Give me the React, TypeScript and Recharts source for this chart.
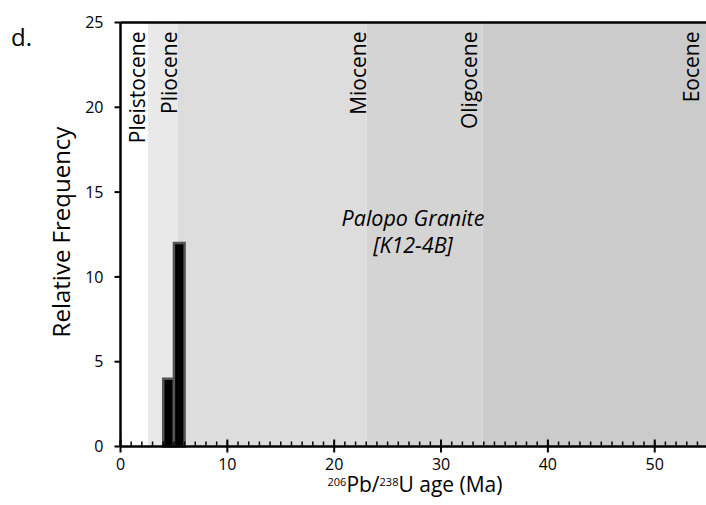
import React from 'react';
import { ComposedChart, XAxis, YAxis, ReferenceArea, ReferenceLine, Line } from 'recharts';

// epochs (Ma)
const epochNames = ['Pleistocene', 'Pliocene', 'Miocene', 'Oligocene', 'Eocene'];
const epochStart = [0, 2.58, 5.33, 23.03, 33.9];
const epochEnd = [2.58, 5.33, 23.03, 33.9, 56];
const epochLabelAt = [2.3, 5.3, 23.0, 33.4, 54.1];
const epochFill = ['#ffffff', '#e9e9e9', '#dddddd', '#d4d4d4', '#cbcbcb'];

// histogram bins, 1 Ma wide
const binStart = [4, 5];
const binEnd = [5, 6];
const binCount = [4, 12];

const xTicks = [0, 10, 20, 30, 40, 50];
const yTicks = [0, 5, 10, 15, 20, 25];
const minorTicks = Array.from({ length: 55 }, (_, i) => i);

const bins = binStart.map((s, i) => ({ age: (s + binEnd[i]) / 2, count: binCount[i] }));

const FONT = '"Open Sans", sans-serif';
const X_DOMAIN = [0, 54.8];

// tick lines only, no label
const NoLabel = () => <g />;

const EpochLabel = ({ viewBox, text }: any) => {
  const x = viewBox.x;
  const y = viewBox.y + 9;
  return (
    <text x={x} y={y} transform={`rotate(-90 ${x} ${y})`} textAnchor="end" fontSize={21} fontFamily={FONT} fill="#000">
      {text}
    </text>
  );
};

export default function App() {
  return (
    <div style={{ position: 'absolute', left: 0, top: 0, width: 706, height: 505, background: '#fff' }}>
      <ComposedChart width={706} height={505} data={bins} margin={{ top: 21.5, right: 0, left: 80.5, bottom: 28.5 }}>
        {epochNames.map((n, i) => (
          <ReferenceArea key={n} xAxisId="main" yAxisId="main" x1={epochStart[i]} x2={epochEnd[i]} y1={0} y2={25}
            fill={epochFill[i]} fillOpacity={1} stroke="none" ifOverflow="hidden" />
        ))}
        {binStart.map((s, i) => (
          <ReferenceArea key={`bin-${s}`} xAxisId="main" yAxisId="main" x1={s} x2={binEnd[i]} y1={0} y2={binCount[i]}
            fill="#000" fillOpacity={1} stroke="#555" strokeWidth={2.5} />
        ))}
        {epochNames.map((n, i) => (
          <ReferenceLine key={`lab-${n}`} xAxisId="main" yAxisId="main" x={epochLabelAt[i]} stroke="none"
            label={(p: any) => <EpochLabel viewBox={p.viewBox} text={n} />} />
        ))}
        <Line xAxisId="main" yAxisId="main" dataKey="count" stroke="none" dot={false} isAnimationActive={false} />

        <XAxis xAxisId="main" type="number" dataKey="age" domain={X_DOMAIN} ticks={xTicks} allowDataOverflow
          height={30} tickSize={6} tickMargin={6} axisLine={{ stroke: '#000', strokeWidth: 2.5 }}
          tickLine={{ stroke: '#000', strokeWidth: 2 }} tick={{ fill: '#000', fontSize: 16, fontFamily: FONT }} />
        <XAxis xAxisId="minor" type="number" dataKey="age" domain={X_DOMAIN} ticks={minorTicks} allowDataOverflow
          interval={0} height={1} mirror tickSize={4} tick={NoLabel} axisLine={false}
          tickLine={{ stroke: '#000', strokeWidth: 1.5 }} />
        <XAxis xAxisId="majorIn" type="number" dataKey="age" domain={X_DOMAIN} ticks={xTicks} allowDataOverflow
          interval={0} height={1} mirror tickSize={7} tick={NoLabel} axisLine={false}
          tickLine={{ stroke: '#000', strokeWidth: 2 }} />
        <XAxis xAxisId="top" orientation="top" type="number" dataKey="age" domain={X_DOMAIN} allowDataOverflow
          height={1} tick={false} tickLine={false} axisLine={{ stroke: '#000', strokeWidth: 2.5 }} />
        <YAxis yAxisId="main" type="number" domain={[0, 25]} ticks={yTicks} width={40} tickSize={6} tickMargin={11}
          axisLine={{ stroke: '#000', strokeWidth: 2.5 }} tickLine={{ stroke: '#000', strokeWidth: 2 }}
          tick={{ fill: '#000', fontSize: 16, fontFamily: FONT }} />
        <YAxis yAxisId="in" type="number" domain={[0, 25]} ticks={yTicks} interval={0} width={1} mirror tickSize={6}
          tick={NoLabel} axisLine={false} tickLine={{ stroke: '#000', strokeWidth: 2 }} />
      </ComposedChart>
      <svg width={706} height={505} style={{ position: 'absolute', left: 0, top: 0, pointerEvents: 'none' }}>
        <text x={11} y={46} fontSize={24} fontFamily={FONT} fill="#000">d.</text>
        <text x={70} y={232} transform="rotate(-90 70 232)" textAnchor="middle" fontSize={24} fontFamily={FONT} fill="#000">
          Relative Frequency
        </text>
        <text x={413} y={226} textAnchor="middle" fontSize={21.5} fontStyle="italic" fontFamily={FONT} fill="#000">Palopo Granite</text>
        <text x={413} y={253} textAnchor="middle" fontSize={21.5} fontStyle="italic" fontFamily={FONT} fill="#000">[K12-4B]</text>
        <text x={415} y={492} textAnchor="middle" fontSize={21} fontFamily={FONT} fill="#000">
          <tspan fontSize={11} dy={-6}>206</tspan>
          <tspan dy={6}>Pb/</tspan>
          <tspan fontSize={11} dy={-6}>238</tspan>
          <tspan dy={6}>U age (Ma)</tspan>
        </text>
      </svg>
    </div>
  );
}
